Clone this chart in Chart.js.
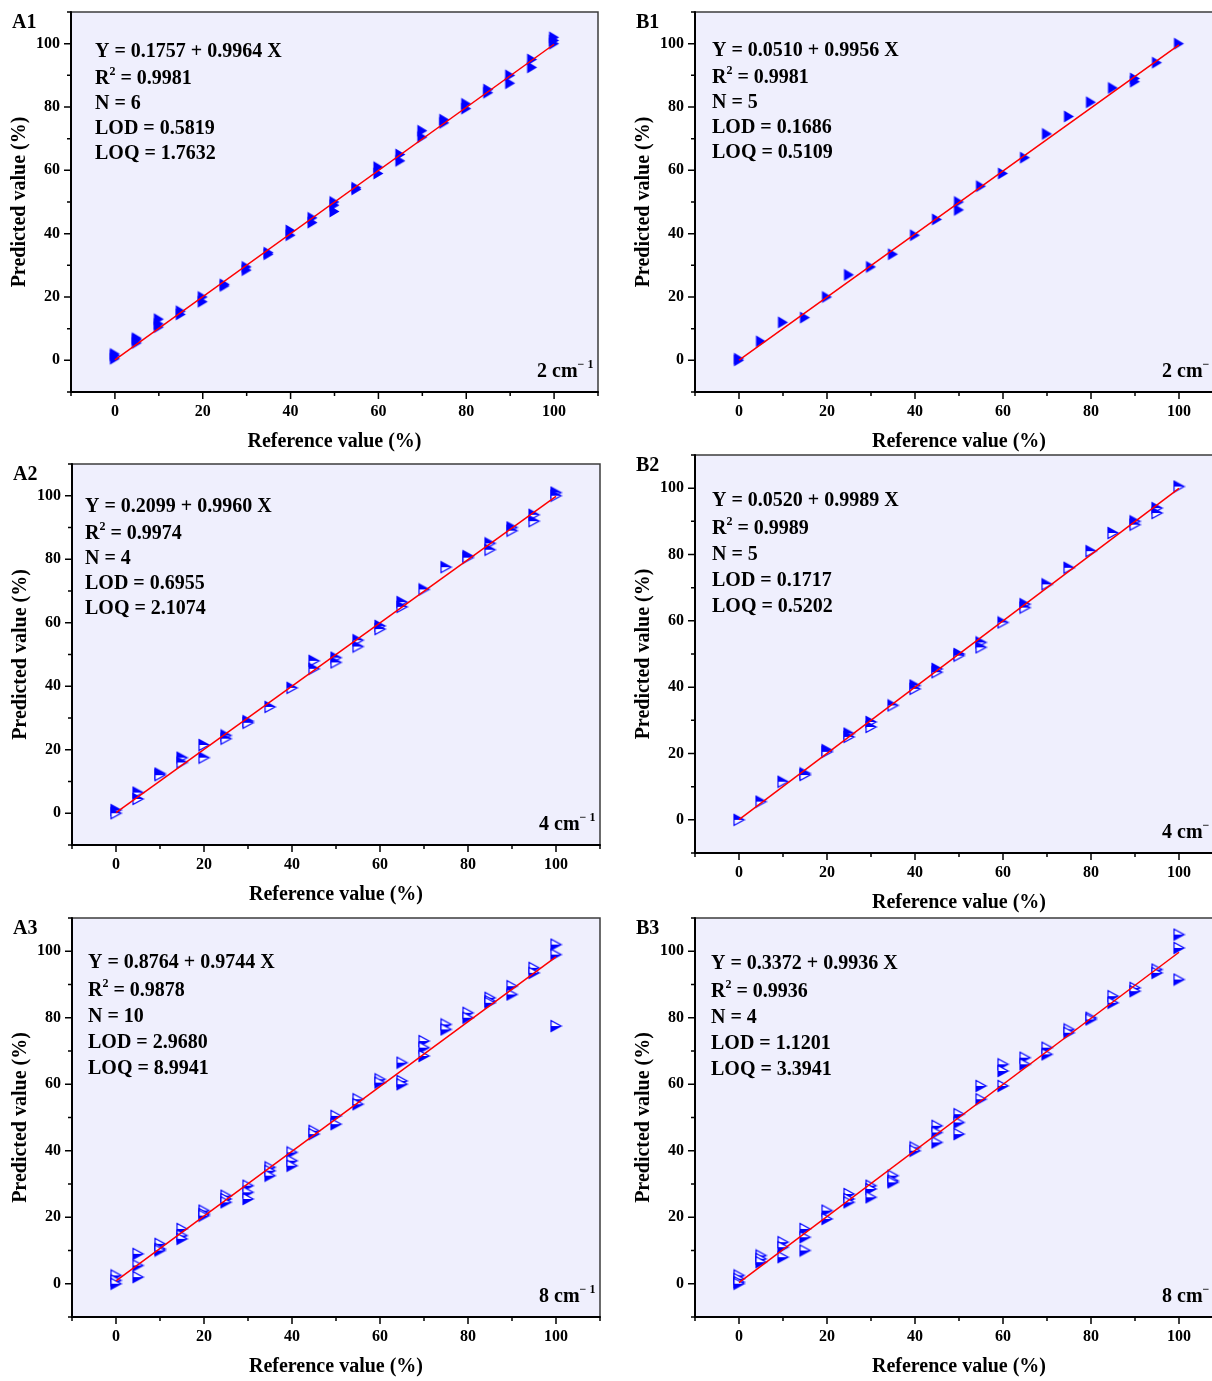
<!DOCTYPE html>
<html>
<head>
<meta charset="utf-8">
<script src="https://cdn.jsdelivr.net/npm/chart.js@4.4.1/dist/chart.umd.min.js"></script>
<style>
  html, body { margin: 0; padding: 0; background: #fff; overflow: hidden; }
  body { width: 1212px; height: 1381px; position: relative; }
  canvas { position: absolute; }
</style>
</head>
<body>
<script>
const REF_LEVELS = [0, 5, 10, 15, 20, 25, 30, 35, 40, 45, 50, 55, 60, 65, 70, 75, 80, 85, 90, 95, 100];
const TICK_VALUES = [0, 20, 40, 60, 80, 100];
const MINOR_TICKS = [-10, 10, 30, 50, 70, 90, 110];
const AXIS_MIN = -10;
const AXIS_MAX = 110;

// predicted values per reference level
const A1_PRED = [[1.5, 0.5, 2], [7, 5.5, 6.5], [13, 10.5, 11.5], [15.5, 14.5], [20, 18.5], [24, 23.5], [29.5, 28.5], [34, 33.5], [41, 39.5], [45, 43.5], [50, 47, 49], [54.5, 54], [61, 59], [65, 63], [72.5, 70.5], [76, 75], [81, 79.5], [85.5, 84.5], [90, 87.5], [95, 92.5], [102, 101, 100]];
const B1_PRED = [[0.5, 0], [6], [12], [13.5], [20], [27], [29.5], [33.5], [39.5], [44.5], [50, 47.5], [55], [59], [64], [71.5], [77], [81.5], [86], [89, 88], [94], [100]];
const A2_PRED = [[1, 0], [6.5, 4.5], [12.5, 12], [17.5, 16], [21.5, 17.5], [24.5, 23.5], [29, 28.5], [33.5], [39.5], [48, 45.5], [49, 47.5], [54.5, 52.5], [59, 58], [66.5, 65], [70.5], [77.5], [81, 80.5], [85, 83], [90, 89], [94, 92], [101, 100]];
const B2_PRED = [[0], [5.5], [11.5], [14, 13.5], [21, 20.5], [26, 25], [29.5, 28], [34.5], [40.5, 39.5], [45.5, 44.5], [50, 49.5], [53.5, 52], [59.5], [65, 64], [71], [76], [81], [86.5], [90, 89], [94, 92.5], [100.5]];
const A3_PRED = [[2.5, 1, 0], [9, 5.5, 2], [12, 10.5, 10], [16.5, 14.5, 13.5], [22, 21, 20.5], [26.5, 25.5, 24.5], [29.5, 27.5, 25.5], [35, 34, 32.5], [39.5, 37, 35.5], [46, 45], [50.5, 48], [55.5, 54], [61.5, 60.5], [66.5, 61, 60], [73, 71, 68.5], [78, 76.5], [81.5, 80], [86, 85, 84.5], [89.5, 87], [95, 93.5], [102, 99, 77.5]];
const B3_PRED = [[2.5, 1.5, 0.5, 0], [8.5, 7.5, 6.5], [12.5, 11, 8], [16.5, 14, 10], [22, 19.5], [27, 25.5, 24.5], [29.5, 28.5, 26], [32.5, 31, 30.5], [41, 40], [47.5, 45.5, 42.5], [51, 48.5, 45], [59.5, 55.5], [66, 64, 59.5], [68, 66], [71, 69], [76.5, 75.5], [80, 79.5], [86.5, 84.5], [89, 88], [94.5, 93.5], [105, 101, 91.5]];

// intercept, slope
const A1_FIT = [0.1757, 0.9964];
const B1_FIT = [0.0510, 0.9956];
const A2_FIT = [0.2099, 0.9960];
const B2_FIT = [0.0520, 0.9989];
const A3_FIT = [0.8764, 0.9744];
const B3_FIT = [0.3372, 0.9936];

// R2, N, LOD, LOQ
const A1_STATS = ['0.9981', '6', '0.5819', '1.7632'];
const B1_STATS = ['0.9981', '5', '0.1686', '0.5109'];
const A2_STATS = ['0.9974', '4', '0.6955', '2.1074'];
const B2_STATS = ['0.9989', '5', '0.1717', '0.5202'];
const A3_STATS = ['0.9878', '10', '2.9680', '8.9941'];
const B3_STATS = ['0.9936', '4', '1.1201', '3.3941'];

const RESOLUTIONS = ['2', '2', '4', '4', '8', '8'];
const PANEL_NAMES = ['A1', 'B1', 'A2', 'B2', 'A3', 'B3'];

const X_TITLE = 'Reference value (%)';
const Y_TITLE = 'Predicted value (%)';

const FONT = 'Liberation Serif, Times New Roman, serif';
const PLOT_BG = '#efeffd';
const BLUE = '#0000ff';

const panels = [
  { pred: A1_PRED, fit: A1_FIT, stats: A1_STATS, box: [71, 12, 598, 392], text: [24, 40, 25], marker: 'full' },
  { pred: B1_PRED, fit: B1_FIT, stats: B1_STATS, box: [695, 12, 1223, 392], text: [17, 39, 25], marker: 'full' },
  { pred: A2_PRED, fit: A2_FIT, stats: A2_STATS, box: [72, 464, 600, 845], text: [13, 43, 25], marker: 'top' },
  { pred: B2_PRED, fit: B2_FIT, stats: B2_STATS, box: [695, 455, 1223, 853], text: [17, 46, 26], marker: 'top' },
  { pred: A3_PRED, fit: A3_FIT, stats: A3_STATS, box: [72, 918, 600, 1317], text: [16, 45, 26], marker: 'bottom' },
  { pred: B3_PRED, fit: B3_FIT, stats: B3_STATS, box: [695, 918, 1223, 1317], text: [16, 46, 26], marker: 'bottom' },
];

const ML = 70, MT = 14, MR = 22, MB = 70;

const makeMarker = (style, w, h) => {
  let c = document.createElement('canvas');
  c.width = w + 2;
  c.height = h + 2;
  let g = c.getContext('2d');
  g.translate(1, 1);
  const tri = () => {
    g.beginPath();
    g.moveTo(0.5, 0.5);
    g.lineTo(w - 0.5, h / 2);
    g.lineTo(0.5, h - 0.5);
    g.closePath();
  };
  if (style === 'full') {
    tri();
    g.fillStyle = BLUE;
    g.fill();
    return c;
  }
  tri();
  g.fillStyle = '#ffffff';
  g.fill();
  g.beginPath();
  if (style === 'top') {
    g.moveTo(0.5, 0.5);
    g.lineTo(w - 0.5, h / 2);
    g.lineTo(0.5, h / 2);
  } else {
    g.moveTo(0.5, h / 2);
    g.lineTo(w - 0.5, h / 2);
    g.lineTo(0.5, h - 0.5);
  }
  g.closePath();
  g.fillStyle = BLUE;
  g.fill();
  tri();
  g.strokeStyle = BLUE;
  g.lineWidth = 1.3;
  g.stroke();
  return c;
};

const drawParts = (ctx, x, y, parts, size) => {
  parts.forEach(([text, sup]) => {
    ctx.font = 'bold ' + (sup ? Math.round(size * 0.62) : size) + 'px ' + FONT;
    ctx.fillText(text, x, sup ? y - size * 0.36 : y);
    x += ctx.measureText(text).width;
  });
};

const panelPlugin = {
  id: 'panel',
  beforeDraw(chart) {
    let { ctx, chartArea: a } = chart;
    ctx.save();
    ctx.fillStyle = PLOT_BG;
    ctx.fillRect(a.left, a.top, a.right - a.left, a.bottom - a.top);
    ctx.restore();
  },
  afterDraw(chart, args, opts) {
    let { ctx, chartArea: a } = chart;
    let xs = chart.scales.x;
    let ys = chart.scales.y;
    let p = opts.panel;
    ctx.save();

    // frame
    ctx.strokeStyle = '#3c3c3c';
    ctx.lineWidth = 1.5;
    ctx.beginPath();
    ctx.moveTo(a.left, a.top);
    ctx.lineTo(a.right, a.top);
    ctx.lineTo(a.right, a.bottom);
    ctx.stroke();
    ctx.strokeStyle = '#000';
    ctx.lineWidth = 2;
    ctx.beginPath();
    ctx.moveTo(a.left, a.top - 0.75);
    ctx.lineTo(a.left, a.bottom);
    ctx.lineTo(a.right + 0.75, a.bottom);
    ctx.stroke();

    // ticks
    ctx.lineWidth = 1.5;
    const tick = (v, len) => {
      let px = xs.getPixelForValue(v);
      let py = ys.getPixelForValue(v);
      ctx.beginPath();
      ctx.moveTo(px, a.bottom);
      ctx.lineTo(px, a.bottom + len);
      ctx.moveTo(a.left, py);
      ctx.lineTo(a.left - len, py);
      ctx.stroke();
    };
    TICK_VALUES.forEach((v) => tick(v, 7));
    MINOR_TICKS.forEach((v) => tick(v, 4));

    ctx.fillStyle = '#000';
    ctx.textBaseline = 'middle';

    // axis titles
    ctx.font = 'bold 20px ' + FONT;
    ctx.textAlign = 'center';
    ctx.fillText(X_TITLE, (a.left + a.right) / 2, a.bottom + 50);
    ctx.save();
    ctx.translate(a.left - 51, (a.top + a.bottom) / 2);
    ctx.rotate(-Math.PI / 2);
    ctx.fillText(Y_TITLE, 0, 0);
    ctx.restore();

    // panel label
    ctx.textAlign = 'left';
    ctx.font = 'bold 20px ' + FONT;
    ctx.fillText(p.name, a.left - 59, a.top + 11);

    // regression stats
    let [tx, ty, gap] = p.text;
    let x0 = a.left + tx;
    let y0 = a.top + ty;
    let [b0, b1] = p.fit;
    let [r2, n, lod, loq] = p.stats;
    drawParts(ctx, x0, y0, [['Y = ' + b0.toFixed(4) + ' + ' + b1.toFixed(4) + ' X']], 20);
    drawParts(ctx, x0, y0 + gap + 2, [['R'], ['2', true], [' = ' + r2]], 20);
    drawParts(ctx, x0, y0 + 2 * gap + 2, [['N = ' + n]], 20);
    drawParts(ctx, x0, y0 + 3 * gap + 2, [['LOD = ' + lod]], 20);
    drawParts(ctx, x0, y0 + 4 * gap + 2, [['LOQ = ' + loq]], 20);

    // resolution
    drawParts(ctx, a.right - 61, a.bottom - 20, [[p.res + ' cm'], ['\u2212 1', true]], 20);

    ctx.restore();
  },
};

panels.forEach((p, i) => {
  let [L, T, R, B] = p.box;
  let el = document.createElement('canvas');
  el.width = R - L + ML + MR;
  el.height = B - T + MT + MB;
  el.style.left = L - ML + 'px';
  el.style.top = T - MT + 'px';
  el.style.width = el.width + 'px';
  el.style.height = el.height + 'px';
  document.body.appendChild(el);

  let marker = makeMarker(p.marker, 11, i < 2 ? 13 : 12);
  let points = [];
  REF_LEVELS.forEach((ref, j) => {
    p.pred[j].forEach((v) => points.push({ x: ref, y: v }));
  });
  let fitLine = [
    { x: REF_LEVELS[0], y: p.fit[0] + p.fit[1] * REF_LEVELS[0] },
    { x: REF_LEVELS[REF_LEVELS.length - 1], y: p.fit[0] + p.fit[1] * REF_LEVELS[REF_LEVELS.length - 1] },
  ];

  const tickFont = { family: FONT, weight: 'bold', size: 16 };
  const axis = (pos) => ({
    type: 'linear',
    position: pos,
    min: AXIS_MIN,
    max: AXIS_MAX,
    grid: { display: false, drawTicks: false, tickLength: 0 },
    border: { display: false },
    title: { display: false },
    afterBuildTicks: (s) => {
      s.ticks = TICK_VALUES.map((v) => ({ value: v }));
    },
    afterFit: (s) => {
      if (pos === 'left') s.width = ML;
      else s.height = MB;
      s.paddingTop = 0;
      s.paddingBottom = 0;
      s.paddingLeft = 0;
      s.paddingRight = 0;
    },
    ticks: {
      font: tickFont,
      color: '#000',
      padding: pos === 'left' ? 11 : 10,
      maxRotation: 0,
      autoSkip: false,
      callback: (v) => String(v),
    },
  });

  new Chart(el, {
    type: 'scatter',
    data: {
      datasets: [
        {
          type: 'line',
          data: fitLine,
          borderColor: '#ff0000',
          borderWidth: 1.5,
          pointRadius: 0,
          showLine: true,
          fill: false,
        },
        {
          data: points,
          pointStyle: marker,
          pointRadius: 5,
          pointHoverRadius: 5,
        },
      ],
    },
    options: {
      responsive: false,
      maintainAspectRatio: false,
      animation: false,
      events: [],
      layout: { padding: { left: 0, top: MT, right: MR, bottom: 0 } },
      scales: { x: axis('bottom'), y: axis('left') },
      plugins: {
        legend: { display: false },
        tooltip: { enabled: false },
        panel: {
          panel: {
            name: PANEL_NAMES[i],
            res: RESOLUTIONS[i],
            fit: p.fit,
            stats: p.stats,
            text: p.text,
          },
        },
      },
    },
    plugins: [panelPlugin],
  });
});
</script>
</body>
</html>
